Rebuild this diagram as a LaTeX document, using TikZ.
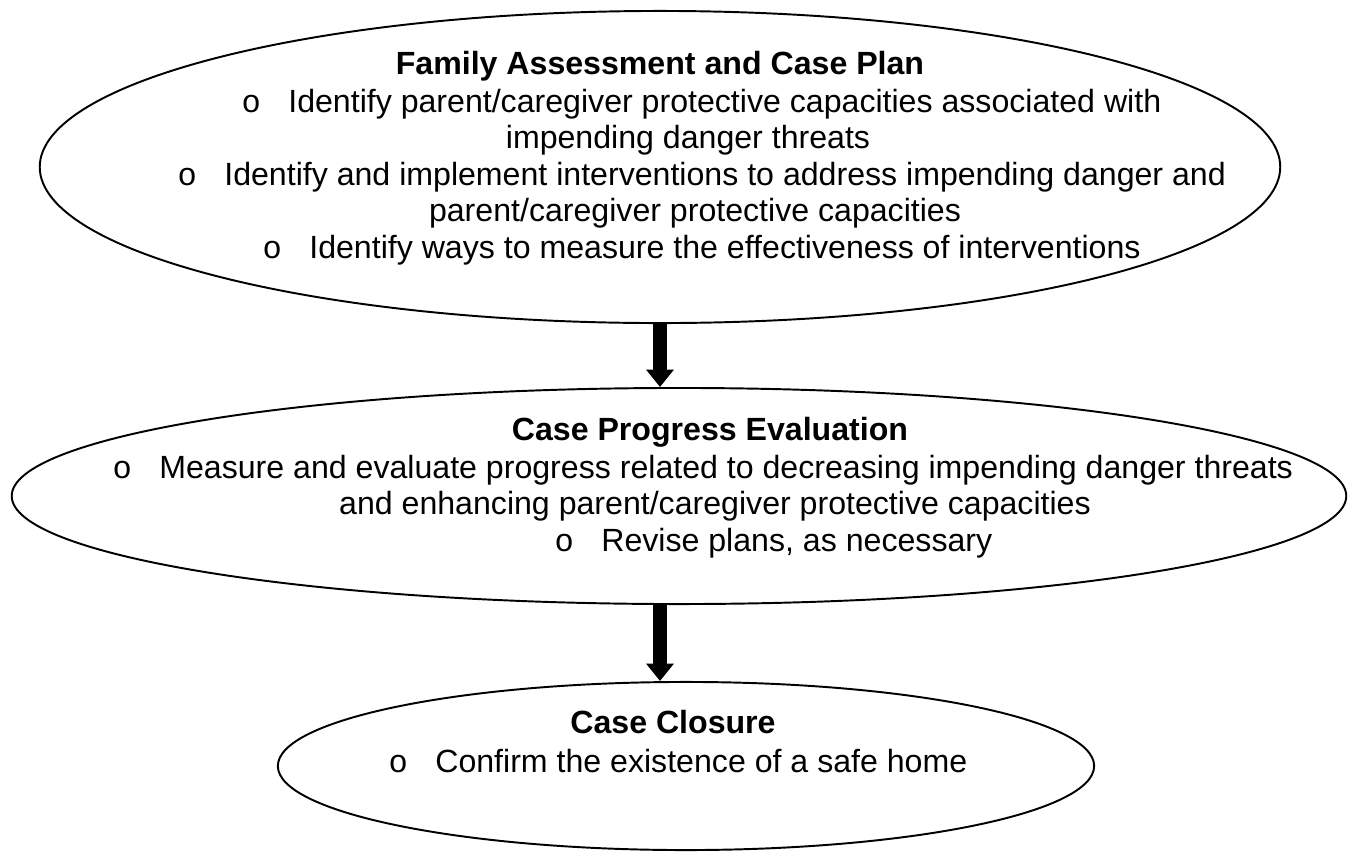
\documentclass[tikz,border=0pt]{standalone}
\usepackage{fontspec}
\setmainfont{Liberation Sans}
\newfontfamily\bulfont{Liberation Mono}
\usepackage{tikz}
\usetikzlibrary{shapes.geometric,arrows.meta}

\newcommand{\bul}{\makebox[16.9pt][l]{\bulfont o}}

\begin{document}
\begin{tikzpicture}[x=0.0127cm, y=-0.0127cm,
    font=\fontsize{11.6pt}{13.2pt}\selectfont,
    phase/.style={ellipse, draw=black, line width=0.7pt, inner sep=0pt},
    heading/.style={anchor=base, inner sep=0pt, font=\fontsize{11.6pt}{13.2pt}\selectfont\bfseries},
    item/.style={anchor=base west, inner sep=0pt},
    wrapline/.style={anchor=base, inner sep=0pt},
    flow/.style={line width=5pt, -{Triangle[width=9.7pt,length=6.3pt]}}]

    \useasboundingbox (0,0) rectangle (1348,852);

    % the three phases
    \node (assess) [phase, minimum width=15.748cm, minimum height=3.962cm] at (660,167) {};
    \node (progress) [phase, minimum width=16.942cm, minimum height=2.743cm] at (679,496) {};
    \node (closure) [phase, minimum width=10.363cm, minimum height=2.134cm] at (686,766) {};

    % family assessment and case plan
    \node (assesstitle) [heading] at (660,74) {Family Assessment and Case Plan};
    \node (assessa) [item] at (241,112) {\bul Identify parent/caregiver protective capacities associated with};
    \node (assessaw) [wrapline] at (688,148.5) {impending danger threats};
    \node (assessb) [item] at (177,185) {\bul Identify and implement interventions to address impending danger and};
    \node (assessbw) [wrapline] at (695,221.5) {parent/caregiver protective capacities};
    \node (assessc) [item] at (262,258) {\bul Identify ways to measure the effectiveness of interventions};

    % case progress evaluation
    \node (progresstitle) [heading] at (710,440) {Case Progress Evaluation};
    \node (progressa) [item] at (112,478) {\bul Measure and evaluate progress related to decreasing impending danger threats};
    \node (progressaw) [wrapline] at (715,514.5) {and enhancing parent/caregiver protective capacities};
    \node (progressb) [item] at (554,551) {\bul Revise plans, as necessary};

    % case closure
    \node (closuretitle) [heading] at (673,733) {Case Closure};
    \node (closurea) [item] at (388,772) {\bul Confirm the existence of a safe home};

    \draw [flow] (assess.south) -- (assess.south |- progress.north);
    \draw [flow] (progress.south -| assess.south) -- (closure.north -| assess.south);

\end{tikzpicture}
\end{document}
